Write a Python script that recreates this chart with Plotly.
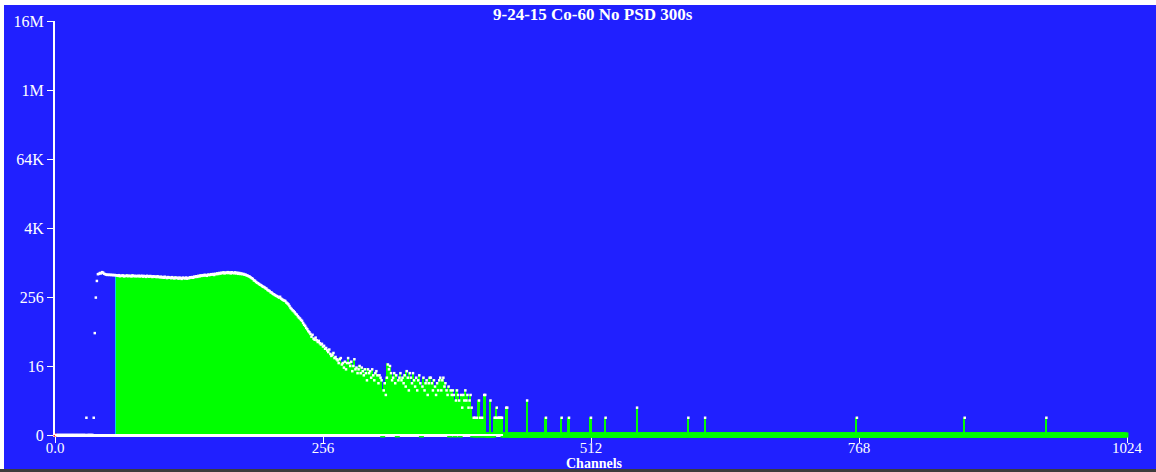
import plotly.graph_objects as go

# ---------------- data ----------------
N_CHANNELS = 1024
ROI_START = 59          # first channel drawn with a filled bar
ROI_EDGE_CHANNEL = 59   # cyan ROI marker column
DENSE_END = 428         # white axis line drawn over the data up to here
CURSOR_CHANNEL = 0

DENSE_COUNTS = [
    0, 0, 0, 0, 0, 0, 0, 0, 0, 0,
    0, 0, 0, 0, 0, 0, 0, 0, 0, 0,
    0, 0, 0, 0, 0, 0, 0, 0, 0, 0,
    2, 0, 0, 0, 0, 0, 0, 2, 60, 250,
    488, 640, 650, 672, 660, 695, 680, 650, 640, 630,
    622, 628, 620, 625, 618, 622, 615, 620, 612, 610,
    600, 615, 590, 605, 598, 610, 585, 600, 595, 608,
    590, 602, 596, 585, 610, 592, 600, 588, 598, 590,
    602, 585, 595, 600, 580, 598, 590, 575, 600, 588,
    580, 595, 585, 572, 590, 578, 582, 570, 588, 575,
    565, 580, 560, 572, 555, 578, 560, 548, 570, 556,
    560, 545, 568, 550, 540, 562, 548, 555, 535, 560,
    545, 530, 558, 548, 540, 560, 535, 552, 545, 565,
    558, 570, 555, 580, 572, 590, 575, 600, 585, 610,
    598, 615, 605, 625, 610, 600, 630, 618, 622, 640,
    628, 645, 620, 650, 640, 662, 645, 672, 655, 680,
    668, 690, 660, 685, 672, 695, 670, 688, 660, 692,
    675, 665, 690, 660, 680, 650, 672, 645, 660, 640,
    648, 625, 630, 610, 605, 590, 580, 560, 545, 530,
    500, 492, 470, 455, 445, 430, 418, 410, 395, 385,
    380, 365, 358, 340, 332, 325, 310, 305, 292, 285,
    278, 270, 265, 258, 250, 258, 240, 232, 226, 222,
    218, 205, 198, 190, 178, 165, 158, 150, 145, 138,
    130, 126, 118, 112, 108, 102, 98, 90, 84, 80,
    74, 70, 65, 62, 58, 52, 56, 48, 46, 50,
    45, 42, 44, 40, 38, 39, 35, 36, 32, 33,
    30, 28, 31, 26, 24, 25, 27, 22, 23, 21,
    20, 18, 21, 22, 17, 18, 15, 19, 14, 18,
    22, 18, 16, 19, 13, 16, 21, 14, 15, 12,
    14, 16, 12, 15, 13, 11, 14, 12, 9, 14,
    12, 13, 10, 14, 11, 9, 12, 13, 11, 8,
    11, 10, 9, 1, 6, 8, 5, 10, 17, 14,
    16, 12, 9, 10, 12, 8, 11, 1, 9, 10,
    12, 9, 10, 8, 11, 7, 13, 10, 6, 12,
    10, 8, 12, 9, 7, 10, 6, 9, 11, 8,
    1, 7, 10, 6, 8, 9, 5, 8, 10, 10,
    8, 6, 9, 7, 5, 8, 6, 9, 10, 6,
    9, 10, 7, 8, 6, 5, 7, 1, 6, 5,
    6, 5, 1, 4, 6, 5, 4, 1, 5, 3,
    5, 4, 6, 4, 5, 3, 4, 5, 3, 1,
    2, 2, 1, 2, 1, 4, 2, 1, 2, 1,
    5, 5, 1, 1, 1, 1, 4, 1, 1, 1,
    2, 2, 3, 2, 2, 2, 2, 2, 1, 1,
    1, 3, 3, 1, 1, 1, 1, 1, 1, 1,
]
BASELINE_COUNT = 1
SPIKE_CHANNELS = [451, 469, 484, 491, 512, 526, 556, 605, 621, 766, 869, 947]
SPIKE_COUNTS = [4, 2, 2, 2, 2, 2, 3, 2, 2, 2, 2, 2]

Y_TICK_VALUES = [1, 16, 256, 4096, 65536, 1048576, 16777216]
Y_TICK_LABELS = ["0", "16", "256", "4K", "64K", "1M", "16M"]
X_TICK_VALUES = [0, 256, 512, 768, 1024]
X_TICK_LABELS = ["0.0", "256", "512", "768", "1024"]

TITLE = "9-24-15 Co-60 No PSD 300s"
X_TITLE = "Channels"

# ---------------- styles ----------------
BG = "#2020FF"
GREEN = "#00FF00"
WHITE = "#FFFFFF"
CYAN = "#00D8E0"
FONT = "Liberation Serif"

W, H = 1156, 472
ML, MR, MT, MB = 55, 29, 21, 37

# ---------------- build series ----------------
counts = DENSE_COUNTS + [BASELINE_COUNT] * (N_CHANNELS - len(DENSE_COUNTS))
for ch, c in zip(SPIKE_CHANNELS, SPIKE_COUNTS):
    counts[ch] = c
channels = list(range(N_CHANNELS))

bar_x, bar_y, bar_col = [], [], []
for ch, c in zip(channels, counts):
    if ch >= ROI_START and c >= 1:
        bar_x.append(ch)
        bar_y.append(c)
        bar_col.append(CYAN if ch == ROI_EDGE_CHANNEL else GREEN)

top_x, top_y = [], []
base_x, base_y = [], []
for ch, c in zip(channels, counts):
    if ch < ROI_START or c >= 2:
        top_x.append(ch)
        top_y.append(max(c, 1))
    else:
        base_x.append(ch)
        base_y.append(1)

fig = go.Figure()
fig.add_trace(go.Bar(
    x=bar_x, y=bar_y, width=1,
    marker=dict(color=bar_col, line=dict(color=bar_col, width=1)),
    hoverinfo="skip", showlegend=False,
))
fig.add_trace(go.Scatter(
    x=base_x, y=base_y, mode="markers",
    marker=dict(symbol="square", size=5, color=GREEN, line=dict(width=0)),
    cliponaxis=False, hoverinfo="skip", showlegend=False,
))
fig.add_trace(go.Scatter(
    x=top_x, y=top_y, mode="markers",
    marker=dict(symbol="square", size=2.5, color=WHITE, line=dict(width=0)),
    cliponaxis=False, hoverinfo="skip", showlegend=False,
))
fig.add_trace(go.Scatter(
    x=[CURSOR_CHANNEL], y=[1], mode="markers",
    marker=dict(symbol="square", size=3, color="#FF2020"),
    cliponaxis=False, hoverinfo="skip", showlegend=False,
))

px_w = W - ML - MR
px_h = H - MT - MB

def px_x(p):
    return (p - ML) / px_w

def px_y(p):
    return (H - MB - p) / px_h

shapes = [
    # white axis line drawn over the dense part of the spectrum
    dict(type="line", xref="x", yref="paper", x0=0, x1=DENSE_END, y0=0, y1=0,
         line=dict(color=WHITE, width=2), layer="above"),
    # window frame: white strip on top / left, grey strip at the bottom
    dict(type="rect", xref="paper", yref="paper", x0=px_x(-10), x1=px_x(W + 10),
         y0=px_y(5), y1=px_y(-10), fillcolor=WHITE, line=dict(width=0), layer="above"),
    dict(type="rect", xref="paper", yref="paper", x0=px_x(-10), x1=px_x(4),
         y0=px_y(H + 10), y1=px_y(-10), fillcolor=WHITE, line=dict(width=0), layer="above"),
    dict(type="rect", xref="paper", yref="paper", x0=px_x(-10), x1=px_x(W + 10),
         y0=px_y(H + 10), y1=px_y(469), fillcolor="#3C3C3C", line=dict(width=0), layer="above"),
]

annotations = [
    dict(text="<b>" + TITLE + "</b>", xref="paper", yref="paper",
         x=px_x(593), y=px_y(15), xanchor="center", yanchor="middle", showarrow=False,
         font=dict(family=FONT, size=17, color=WHITE)),
    dict(text="<b>" + X_TITLE + "</b>", xref="paper", yref="paper",
         x=px_x(594), y=px_y(463), xanchor="center", yanchor="middle", showarrow=False,
         font=dict(family=FONT, size=14, color=WHITE)),
]

fig.update_layout(
    width=W, height=H, autosize=False,
    margin=dict(l=ML, r=MR, t=MT, b=MB, pad=0, autoexpand=False),
    paper_bgcolor=BG, plot_bgcolor=BG,
    bargap=0, barmode="overlay",
    shapes=shapes, annotations=annotations,
    showlegend=False,
    xaxis=dict(
        range=[0, N_CHANNELS], showgrid=False, zeroline=False, automargin=False,
        showline=True, linecolor=WHITE, linewidth=2,
        ticks="outside", ticklen=6, tickwidth=1, tickcolor=WHITE,
        tickvals=X_TICK_VALUES, ticktext=X_TICK_LABELS,
        tickfont=dict(family=FONT, size=15, color=WHITE),
        ticklabelstandoff=-8,
        layer="below traces", fixedrange=True,
    ),
    yaxis=dict(
        type="log", range=[0, 7.2248], showgrid=False, zeroline=False, automargin=False,
        showline=True, linecolor=WHITE, linewidth=2,
        ticks="outside", ticklen=6, tickwidth=1, tickcolor=WHITE,
        tickvals=Y_TICK_VALUES, ticktext=Y_TICK_LABELS,
        tickfont=dict(family=FONT, size=16, color=WHITE),
        fixedrange=True,
    ),
)

fig.write_html("out.html", config={"displayModeBar": False},
               post_script="document.body.style.margin='0';document.body.style.overflow='hidden';")
